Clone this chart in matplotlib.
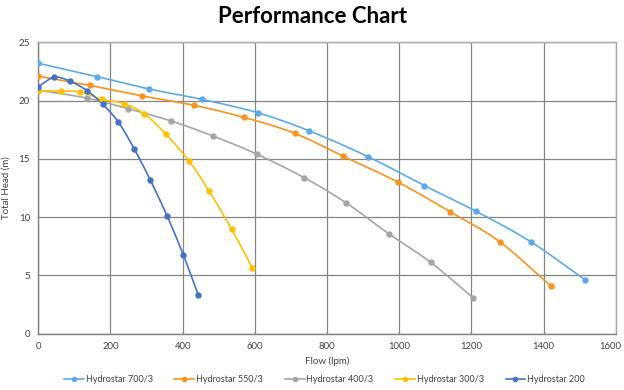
import numpy as np
import matplotlib.pyplot as plt
import matplotlib.transforms as mtransforms
from matplotlib.lines import Line2D

# ---------------------------
# Data
# ---------------------------
names = ["Hydrostar 700/3", "Hydrostar 550/3", "Hydrostar 400/3", "Hydrostar 300/3", "Hydrostar 200"]
colors = ["#5DA9E9", "#F7931E", "#A5A5A5", "#FFC000", "#4472C4"]

flow_700 = [0, 164, 306, 454, 609, 751, 913, 1070, 1213, 1364, 1516]
head_700 = [23.2, 22.05, 21.0, 20.1, 18.95, 17.4, 15.2, 12.7, 10.5, 7.9, 4.6]

flow_550 = [0, 143, 288, 431, 571, 710, 843, 997, 1142, 1278, 1421]
head_550 = [22.1, 21.3, 20.4, 19.6, 18.55, 17.2, 15.25, 13.0, 10.45, 7.9, 4.07]

flow_400 = [0, 136, 249, 368, 485, 606, 736, 852, 971, 1087, 1204]
head_400 = [20.9, 20.2, 19.3, 18.25, 16.95, 15.4, 13.4, 11.25, 8.58, 6.13, 3.1]

flow_300 = [0, 63, 116, 177, 237, 294, 354, 418, 474, 536, 593]
head_300 = [20.85, 20.8, 20.75, 20.1, 19.75, 18.85, 17.1, 14.8, 12.2, 8.95, 5.66]

flow_200 = [0, 44, 89, 135, 178, 222, 266, 310, 357, 402, 443]
head_200 = [21.2, 22.0, 21.65, 20.85, 19.7, 18.15, 15.85, 13.2, 10.1, 6.75, 3.35]

series = [(flow_700, head_700), (flow_550, head_550), (flow_400, head_400),
          (flow_300, head_300), (flow_200, head_200)]


def smooth(x, y, n=20):
    # Catmull-Rom style curve through the points (like Excel smoothed lines)
    x = np.asarray(x, float)
    y = np.asarray(y, float)
    px = np.concatenate([[2 * x[0] - x[1]], x, [2 * x[-1] - x[-2]]])
    py = np.concatenate([[2 * y[0] - y[1]], y, [2 * y[-1] - y[-2]]])
    t = np.linspace(0, 1, n)
    xs, ys = [], []
    for i in range(1, len(px) - 2):
        for arr, out in ((px, xs), (py, ys)):
            p0, p1, p2, p3 = arr[i - 1], arr[i], arr[i + 1], arr[i + 2]
            out.extend(0.5 * (2 * p1 + (-p0 + p2) * t
                              + (2 * p0 - 5 * p1 + 4 * p2 - p3) * t ** 2
                              + (-p0 + 3 * p1 - 3 * p2 + p3) * t ** 3))
    return xs, ys


plt.rcParams["font.family"] = ["Lato", "DejaVu Sans"]

fig = plt.figure(figsize=(6.24, 3.9), dpi=100)
ax = fig.add_axes([0.0614, 0.1444, 0.9253, 0.7471])

for (fx, hy), c in zip(series, colors):
    sx, sy = smooth(fx, hy)
    ax.plot(sx, sy, color=c, lw=1.2, zorder=3)
    ax.plot(fx, hy, "o", color=c, ms=3.6, zorder=4)

ax.set_xlim(0, 1600)
ax.set_ylim(0, 25)
ax.set_xticks(range(0, 1601, 200))
ax.set_yticks(range(0, 26, 5))
ax.grid(True, color="#858585", lw=0.9)
ax.set_axisbelow(True)
for s in ax.spines.values():
    s.set_color("#A8A8A8")
    s.set_linewidth(1.0)
ax.spines["left"].set_color("#808080")
ax.spines["bottom"].set_color("#808080")
ax.tick_params(length=0, labelsize=7, colors="#404040", pad=6)
ax.tick_params(axis="x", labelsize=6.8)

# keep the last x label inside the figure
last = ax.get_xticklabels()[-1]
last.set_transform(last.get_transform() + mtransforms.ScaledTranslation(-4 / 72, 0, fig.dpi_scale_trans))

ax.set_xlabel("Flow (lpm)", fontsize=7, color="#404040", labelpad=4)
ax.set_ylabel("Total Head (m)", fontsize=7, color="#404040", labelpad=6)

fig.suptitle("Performance Chart", fontsize=16, fontweight="bold", y=0.985)

handles = [Line2D([0], [0], color=c, lw=1.2, marker="o", ms=3) for c in colors]
fig.legend(handles, names, loc="lower center", bbox_to_anchor=(0.52, -0.005), ncol=5,
           frameon=False, fontsize=6.5, handlelength=2.2, handletextpad=0.2,
           columnspacing=2.4, labelcolor="#404040")

fig.savefig("out.png", dpi=100)
